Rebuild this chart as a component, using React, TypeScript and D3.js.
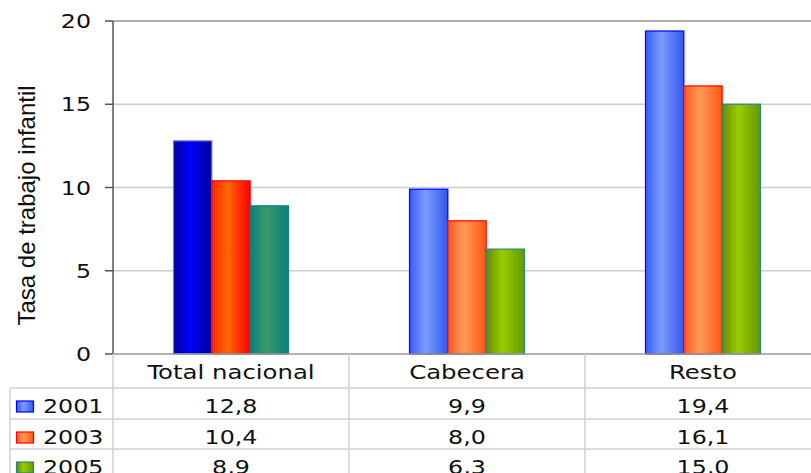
import * as d3 from "d3";

// chart data
const categories = ["Total nacional", "Cabecera", "Resto"];
const years = ["2001", "2003", "2005"];
const values2001 = [12.8, 9.9, 19.4];
const values2003 = [10.4, 8.0, 16.1];
const values2005 = [8.9, 6.3, 15.0];
const yTicks = [0, 5, 10, 15, 20];

const seriesValues = [values2001, values2003, values2005];

// gradient stops [edge, middle, edge] + stroke, normal and for the first group
const normalColors = [
  { stops: ["#3a5cff", "#7a9cff", "#3355ee"], stroke: "#0000ff" },
  { stops: ["#ff5a22", "#ff9a58", "#ff5511"], stroke: "#ff0000" },
  { stops: ["#668a00", "#9acc00", "#669900"], stroke: "#2a8484" },
];
const firstColors = [
  { stops: ["#0000a0", "#0000ff", "#00009a"], stroke: "#7777bb" },
  { stops: ["#ff2a00", "#ff6600", "#ff0000"], stroke: "#ff0000" },
  { stops: ["#0e7e80", "#3a9a6a", "#0e7e80"], stroke: "#118080" },
];

const width = 811;
const height = 473;
const margin = { left: 113, top: 21, bottom: 354 };
const plotRight = 113 + 3 * 236;

const fontFamily = "'DejaVu Sans', Verdana, sans-serif";
const sx = 1.25; // horizontal stretch of the table/axis text

const rowTops = [388, 419, 449];
const rowBottom = 480;
const gridColor = "#d0d0d0";

export default function App() {
  document.body.style.margin = "0";

  const x0 = d3.scaleBand<string>().domain(categories).range([margin.left, plotRight]);
  const x1 = d3
    .scaleBand<string>()
    .domain(years)
    .range([0, x0.bandwidth()])
    .paddingInner(0)
    .paddingOuter(1.58);
  const y = d3.scaleLinear().domain([0, 20]).range([margin.bottom, margin.top]);

  const stretched = (cx: number, cy: number, anchor: string, txt: string, size = 19) => (
    <text
      transform={`translate(${cx},${cy}) scale(${sx},1)`}
      textAnchor={anchor}
      fontFamily={fontFamily}
      fontSize={size}
      fill="#111"
    >
      {txt}
    </text>
  );

  return (
    <svg width={width} height={height} style={{ display: "block" }}>
      <defs>
        {[normalColors, firstColors].map((set, si) =>
          set.map((c, i) => (
            <linearGradient key={`g${si}${i}`} id={`grad-${si}-${i}`} x1="0" x2="1" y1="0" y2="0">
              <stop offset="0" stopColor={c.stops[0]} />
              <stop offset="0.42" stopColor={c.stops[1]} />
              <stop offset="1" stopColor={c.stops[2]} />
            </linearGradient>
          ))
        )}
      </defs>
      <rect width={width} height={height} fill="#fff" />

      {/* grid lines */}
      {yTicks.slice(1).map((t) => (
        <line
          key={`grid${t}`}
          x1={margin.left}
          x2={width}
          y1={y(t)}
          y2={y(t)}
          stroke={t === 20 ? "#b0b0b0" : "#cccccc"}
          strokeWidth={t === 20 ? 2 : 1.5}
        />
      ))}

      {/* y axis */}
      <line x1={margin.left} x2={margin.left} y1={y(20)} y2={y(0)} stroke="#555" strokeWidth={1.5} />
      {yTicks.map((t) => (
        <g key={`tick${t}`}>
          <line x1={margin.left - 8} x2={margin.left} y1={y(t)} y2={y(t)} stroke="#555" strokeWidth={1.5} />
          {stretched(91, y(t) + 7, "end", String(t), 19)}
        </g>
      ))}
      <text
        transform={`translate(35,${(y(0) + y(20)) / 2 + 18}) rotate(-90)`}
        textAnchor="middle"
        fontFamily="'Liberation Sans', Arial, sans-serif"
        fontSize={24}
        fill="#111"
      >
        Tasa de trabajo infantil
      </text>

      {/* bars */}
      {categories.map((cat, ci) => (
        <g key={cat} transform={`translate(${x0(cat)},0)`}>
          {years.map((yr, si) => {
            const v = seriesValues[si][ci];
            const c = ci === 0 ? firstColors[si] : normalColors[si];
            return (
              <rect
                key={yr}
                x={x1(yr)}
                y={y(v)}
                width={x1.bandwidth()}
                height={y(0) - y(v)}
                fill={`url(#grad-${ci === 0 ? 1 : 0}-${si})`}
                stroke={c.stroke}
                strokeWidth={1.2}
              />
            );
          })}
        </g>
      ))}

      {/* baseline */}
      <line x1={margin.left} x2={width} y1={y(0)} y2={y(0)} stroke="#999" strokeWidth={1.5} />

      {/* data table */}
      {rowTops.map((r) => (
        <line key={`row${r}`} x1={10} x2={width} y1={r} y2={r} stroke={gridColor} strokeWidth={1.5} />
      ))}
      <line x1={10} x2={10} y1={rowTops[0]} y2={rowBottom} stroke={gridColor} strokeWidth={1.5} />
      {categories.map((cat) => (
        <line
          key={`col${cat}`}
          x1={x0(cat)}
          x2={x0(cat)}
          y1={y(0)}
          y2={rowBottom}
          stroke={gridColor}
          strokeWidth={1.5}
        />
      ))}
      {categories.map((cat) => (
        <g key={`head${cat}`}>{stretched(x0(cat)! + x0.bandwidth() / 2, 379, "middle", cat, 19.5)}</g>
      ))}
      {years.map((yr, si) => (
        <g key={`rowtxt${yr}`}>
          <rect
            x={16.5}
            y={rowTops[si] + 13}
            width={17}
            height={11}
            fill={`url(#grad-0-${si})`}
            stroke={normalColors[si].stroke}
            strokeWidth={1.2}
          />
          {stretched(43, rowTops[si] + 25, "start", yr, 19)}
          {categories.map((cat, ci) => (
            <g key={`v${cat}`}>
              {stretched(
                x0(cat)! + x0.bandwidth() / 2,
                rowTops[si] + 25,
                "middle",
                seriesValues[si][ci].toFixed(1).replace(".", ","),
                19
              )}
            </g>
          ))}
        </g>
      ))}
    </svg>
  );
}
